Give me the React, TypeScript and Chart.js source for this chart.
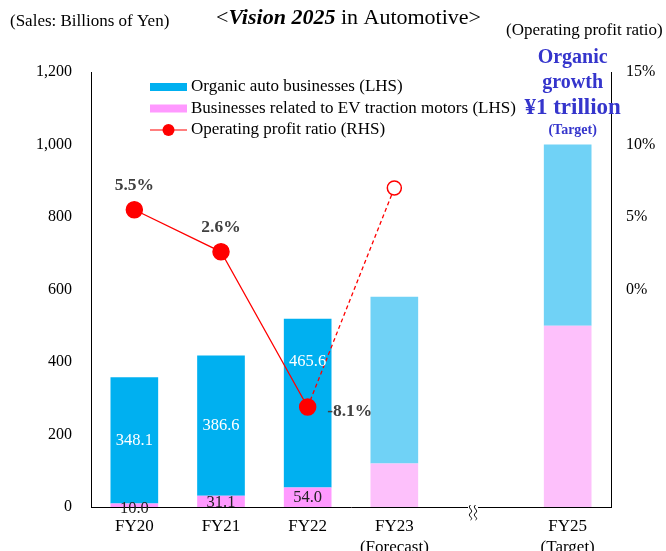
import React, { useEffect, useRef } from "react";
import { Chart, registerables } from "chart.js";

Chart.register(...registerables);

// ---------- data ----------
const categories = [["FY20"], ["FY21"], ["FY22"], ["FY23", "(Forecast)"], [""], ["FY25", "(Target)"]];
const organicSales = [348.1, 386.6, 465.6, 460, null, 500];
const evMotorSales = [10.0, 31.1, 54.0, 120, null, 500];
const opProfitRatio = [5.5, 2.6, -8.1, 7.0, null, null];
const organicLabels = ["348.1", "386.6", "465.6", "", "", ""];
const evLabels = ["10.0", "31.1", "54.0", "", "", ""];
const ratioLabels = ["5.5%", "2.6%", "-8.1%", "", "", ""];
const titleParts = ["<", "Vision 2025", " in Automotive>"];
const leftAxisTitle = "(Sales: Billions of Yen)";
const rightAxisTitle = "(Operating profit ratio)";
const legendLabels = [
  "Organic auto businesses (LHS)",
  "Businesses related to EV traction motors (LHS)",
  "Operating profit ratio (RHS)",
];
const targetNote = ["Organic", "growth", "¥1 trillion", "(Target)"];

// ---------- styles ----------
const SERIF = "'Liberation Serif', 'Times New Roman', serif";
const BLUE = "#00b0f0";
const PINK = "#ff99ff";
const BLUE_LIGHT = "#70d2f6";
const PINK_LIGHT = "#fdc0fb";
const RED = "#ff0000";
const NOTE_BLUE = "#3535cc";
const organicColors = [BLUE, BLUE, BLUE, BLUE_LIGHT, "rgba(0,0,0,0)", BLUE_LIGHT];
const evColors = [PINK, PINK, PINK, PINK_LIGHT, "rgba(0,0,0,0)", PINK_LIGHT];
const organicLabelShift = [0, 0, -41, 0, 0, 0];
const evLabelShift = [3, 1, 0, 0, 0, 0];
const pointFill = [RED, RED, RED, "#ffffff", RED, RED];
const pointRadii = [8, 8, 8, 7, 0, 0];

const overlayPlugin = {
  id: "overlay",
  afterDraw(chart: any) {
    const ctx = chart.ctx as CanvasRenderingContext2D;
    const xs = chart.scales.x;
    ctx.save();

    // Title (mixed styles)
    const fonts = [`22px ${SERIF}`, `italic bold 22px ${SERIF}`, `22px ${SERIF}`];
    let total = 0;
    const widths: number[] = [];
    titleParts.forEach((t, i) => {
      ctx.font = fonts[i];
      const w = ctx.measureText(t).width;
      widths.push(w);
      total += w;
    });
    let cx = 348.5 - total / 2;
    ctx.textBaseline = "middle";
    ctx.textAlign = "left";
    ctx.fillStyle = "#000";
    titleParts.forEach((t, i) => {
      ctx.font = fonts[i];
      ctx.fillText(t, cx, 18);
      cx += widths[i];
    });

    // Axis titles
    ctx.font = `17px ${SERIF}`;
    ctx.fillText(leftAxisTitle, 10, 22);
    ctx.fillText(rightAxisTitle, 506, 31);

    // Legend
    const ly = [87, 108.5, 130];
    ctx.fillStyle = BLUE;
    ctx.fillRect(150, ly[0] - 4, 37, 8);
    ctx.fillStyle = PINK;
    ctx.fillRect(150, ly[1] - 4, 37, 8);
    ctx.strokeStyle = RED;
    ctx.lineWidth = 1.2;
    ctx.beginPath();
    ctx.moveTo(150, ly[2]);
    ctx.lineTo(187, ly[2]);
    ctx.stroke();
    ctx.fillStyle = RED;
    ctx.beginPath();
    ctx.arc(168.5, ly[2], 6, 0, Math.PI * 2);
    ctx.fill();
    ctx.fillStyle = "#000";
    ctx.font = `17px ${SERIF}`;
    legendLabels.forEach((t, i) => ctx.fillText(t, 191, ly[i]));

    // Target note
    const nx = xs.getPixelForValue(5) + 5;
    ctx.textAlign = "center";
    ctx.fillStyle = NOTE_BLUE;
    ctx.font = `bold 20px ${SERIF}`;
    ctx.fillText(targetNote[0], nx, 58);
    ctx.fillText(targetNote[1], nx, 83);
    ctx.font = `bold 23px ${SERIF}`;
    ctx.fillText(targetNote[2], nx, 108);
    ctx.font = `bold 14px ${SERIF}`;
    ctx.fillText(targetNote[3], nx, 130);

    // Bar value labels
    const metaOrg = chart.getDatasetMeta(1);
    const metaEv = chart.getDatasetMeta(2);
    ctx.font = `16.5px ${SERIF}`;
    metaOrg.data.forEach((el: any, i: number) => {
      if (!organicLabels[i]) return;
      ctx.fillStyle = "#ffffff";
      ctx.fillText(organicLabels[i], el.x, (el.y + el.base) / 2 + organicLabelShift[i]);
    });
    metaEv.data.forEach((el: any, i: number) => {
      if (!evLabels[i]) return;
      ctx.fillStyle = "#222";
      ctx.fillText(evLabels[i], el.x, (el.y + el.base) / 2 + evLabelShift[i]);
    });

    // Ratio labels
    const metaLine = chart.getDatasetMeta(0);
    ctx.font = `bold 17.5px ${SERIF}`;
    ctx.fillStyle = "#404040";
    metaLine.data.forEach((el: any, i: number) => {
      const t = ratioLabels[i];
      if (!t) return;
      if (opProfitRatio[i]! < 0) {
        ctx.textAlign = "left";
        ctx.fillText(t, el.x + 19.5, el.y + 5);
      } else {
        ctx.textAlign = "center";
        ctx.fillText(t, el.x, el.y - 24.5);
      }
    });

    // Axis break symbol
    const bx = xs.getPixelForValue(4) - 8;
    const by = chart.chartArea.bottom;
    ctx.fillStyle = "#fff";
    ctx.fillRect(bx - 5, by - 1, 10, 3);
    ctx.strokeStyle = "#000";
    ctx.lineWidth = 1;
    [bx - 2.5, bx + 2.5].forEach((sx) => {
      ctx.beginPath();
      ctx.moveTo(sx, by - 2);
      ctx.bezierCurveTo(sx - 4, by + 1, sx + 4, by + 3, sx, by + 6);
      ctx.bezierCurveTo(sx - 4, by + 9, sx + 4, by + 11, sx, by + 13);
      ctx.stroke();
    });

    ctx.restore();
  },
};

export default function App() {
  const canvasRef = useRef<HTMLCanvasElement | null>(null);

  useEffect(() => {
    if (!canvasRef.current) return;
    const chart = new Chart(canvasRef.current, {
      type: "bar",
      data: {
        labels: categories as any,
        datasets: [
          {
            type: "line",
            label: legendLabels[2],
            data: opProfitRatio as any,
            yAxisID: "y1",
            borderColor: RED,
            borderWidth: 1.3,
            pointBackgroundColor: pointFill,
            pointBorderColor: RED,
            pointBorderWidth: 1.5,
            pointRadius: pointRadii,
            pointHoverRadius: pointRadii,
            spanGaps: false,
            order: 0,
            segment: {
              borderDash: (c: any) => (c.p1DataIndex === 3 ? [4, 3] : undefined),
            },
          } as any,
          {
            type: "bar",
            label: legendLabels[0],
            data: organicSales as any,
            backgroundColor: organicColors,
            yAxisID: "y",
            stack: "s",
            order: 2,
            categoryPercentage: 1,
            barPercentage: 0.55,
          },
          {
            type: "bar",
            label: legendLabels[1],
            data: evMotorSales as any,
            backgroundColor: evColors,
            yAxisID: "y",
            stack: "s",
            order: 1,
            categoryPercentage: 1,
            barPercentage: 0.55,
          },
        ],
      },
      options: {
        responsive: false,
        animation: false,
        devicePixelRatio: 1,
        layout: { padding: { top: 72, left: 0, right: 0, bottom: 0 } },
        plugins: {
          legend: { display: false },
          title: { display: false },
          tooltip: { enabled: false },
        },
        scales: {
          x: {
            stacked: true,
            grid: { display: false, drawTicks: false },
            border: { display: true, color: "#000", width: 1 },
            ticks: {
              color: "#000",
              font: { family: SERIF, size: 17, lineHeight: 1.18 },
              padding: 10,
              maxRotation: 0,
              autoSkip: false,
            },
            afterFit: (s: any) => {
              s.height = 44;
            },
          },
          y: {
            stacked: true,
            position: "left",
            min: 0,
            max: 1200,
            grid: { display: false, drawTicks: false },
            border: { display: true, color: "#000", width: 1 },
            ticks: {
              stepSize: 200,
              color: "#000",
              font: { family: SERIF, size: 16 },
              padding: 19,
              callback: (v: any) => Number(v).toLocaleString("en-US"),
            },
            afterFit: (s: any) => {
              s.width = 91;
            },
          },
          y1: {
            position: "right",
            min: -15,
            max: 15,
            grid: { display: false, drawTicks: false },
            border: { display: true, color: "#000", width: 1 },
            ticks: {
              stepSize: 5,
              color: "#000",
              font: { family: SERIF, size: 16 },
              padding: 15,
              callback: (v: any) => (Number(v) >= 0 ? `${v}%` : ""),
            },
            afterFit: (s: any) => {
              s.width = 55;
            },
          },
        },
      },
      plugins: [overlayPlugin],
    });
    return () => chart.destroy();
  }, []);

  return (
    <div style={{ position: "absolute", left: 0, top: 0, width: 666, height: 551, background: "#fff" }}>
      <canvas ref={canvasRef} width={666} height={551} style={{ display: "block" }} />
    </div>
  );
}
